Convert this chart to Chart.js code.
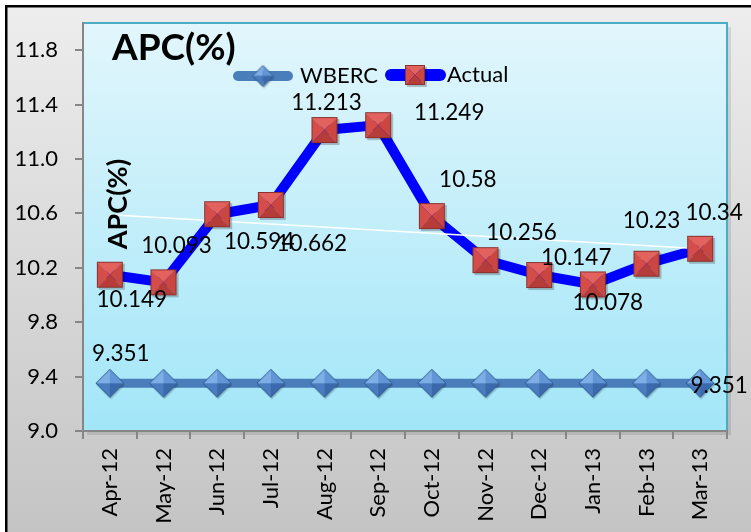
<!DOCTYPE html>
<html><head><meta charset="utf-8">
<script src="https://cdn.jsdelivr.net/npm/chart.js@4.4.1/dist/chart.umd.min.js"></script>
<style>html,body{margin:0;padding:0;background:#fff}#wrap{position:relative;width:751px;height:532px}</style>
</head><body><div id="wrap"><canvas id="c" width="751" height="532"></canvas></div>
<script>
// ---- data ----
const categories = ['Apr-12','May-12','Jun-12','Jul-12','Aug-12','Sep-12','Oct-12','Nov-12','Dec-12','Jan-13','Feb-13','Mar-13'];
const wbercValues = [9.351,9.351,9.351,9.351,9.351,9.351,9.351,9.351,9.351,9.351,9.351,9.351];
const actualValues = [10.149,10.093,10.594,10.662,11.213,11.249,10.58,10.256,10.147,10.078,10.23,10.34];
const trendValues = [10.59,null,null,null,null,null,null,null,null,null,null,10.34];
const yTickValues = [9.0,9.4,9.8,10.2,10.6,11.0,11.4,11.8];
const yMin = 9.0, yMax = 12.0;
const seriesNames = ['WBERC','Actual'];
const chartTitle = 'APC(%)';
const axisTitle = 'APC(%)';

// ---- label placement (pixels, relative to point) ----
const actualLabelOffsets = [[22,25],[13,-37],[42,28],[41,39],[2,-27],[71,-12],[36,-36],[36,-27],[37,-17],[15,18],[5,-43],[14,-36]];
const wbercLabelOffsets = {0:[11,-30], 11:[19,2]};

const FONT = 'Lato, "Open Sans", sans-serif';

function makeSquare(s){
  const pad=3, c=document.createElement('canvas'); c.width=s+pad*2; c.height=s+pad*2;
  const x=c.getContext('2d'); const o=pad, e=pad+s, m=pad+s/2;
  x.fillStyle='rgba(0,0,0,0.22)'; x.fillRect(o+2,o+2,s,s);
  const tri=(pts,col)=>{x.beginPath();x.moveTo(pts[0],pts[1]);x.lineTo(pts[2],pts[3]);x.lineTo(pts[4],pts[5]);x.closePath();x.fillStyle=col;x.fill();};
  tri([o,o,e,o,m,m],'#e4625d');
  tri([o,o,o,e,m,m],'#d54d48');
  tri([e,o,e,e,m,m],'#cc4641');
  tri([o,e,e,e,m,m],'#b53c38');
  x.strokeStyle='#8a312e'; x.lineWidth=1; x.strokeRect(o+0.5,o+0.5,s-1,s-1);
  return c;
}
function makeDiamond(s){
  const pad=3, c=document.createElement('canvas'); c.width=s+pad*2; c.height=s+pad*2;
  const x=c.getContext('2d'); const m=pad+s/2, h=s/2;
  const T=[m,m-h],R=[m+h,m],B=[m,m+h],L=[m-h,m];
  x.fillStyle='rgba(0,0,0,0.2)'; x.beginPath(); x.moveTo(T[0]+1,T[1]+2);x.lineTo(R[0]+1,R[1]+2);x.lineTo(B[0]+1,B[1]+2);x.lineTo(L[0]+1,L[1]+2);x.closePath();x.fill();
  const tri=(a,b,col)=>{x.beginPath();x.moveTo(a[0],a[1]);x.lineTo(b[0],b[1]);x.lineTo(m,m);x.closePath();x.fillStyle=col;x.fill();};
  tri(T,L,'#7eaee6'); tri(T,R,'#6396d6'); tri(L,B,'#4a7dc0'); tri(R,B,'#3a6aab');
  x.beginPath();x.moveTo(T[0],T[1]);x.lineTo(R[0],R[1]);x.lineTo(B[0],B[1]);x.lineTo(L[0],L[1]);x.closePath();
  x.strokeStyle='#2f5b91'; x.lineWidth=1; x.stroke();
  return c;
}
const squareImg = makeSquare(26), diamondImg = makeDiamond(28);
const squareSmall = makeSquare(20), diamondSmall = makeDiamond(21);

const bgPlugin = {
  id:'bg',
  beforeDraw(chart){
    const ctx=chart.ctx, ca=chart.chartArea;
    ctx.save();
    ctx.fillStyle='#fff'; ctx.fillRect(0,0,751,532);
    const g=ctx.createLinearGradient(0,7,0,532); g.addColorStop(0,'#ededed'); g.addColorStop(1,'#c4c4c4');
    ctx.fillStyle=g; ctx.fillRect(7,7,744,525);
    ctx.fillStyle='#000'; ctx.fillRect(5,5,746,2.5); ctx.fillRect(5,5,2.5,527);
    ctx.fillStyle='rgba(0,0,0,0.10)'; ctx.fillRect(ca.left+4,ca.top+4,ca.right-ca.left,ca.bottom-ca.top);
    const pg=ctx.createLinearGradient(0,ca.top,0,ca.bottom); pg.addColorStop(0,'#e2f6fc'); pg.addColorStop(1,'#a2e6f8');
    ctx.fillStyle=pg; ctx.fillRect(ca.left,ca.top,ca.right-ca.left,ca.bottom-ca.top);
    ctx.strokeStyle='#4bacc6'; ctx.lineWidth=2; ctx.strokeRect(ca.left,ca.top,ca.right-ca.left,ca.bottom-ca.top);
    ctx.restore();
  }
};

const textPlugin = {
  id:'texts',
  afterDatasetsDraw(chart){
    const ctx=chart.ctx;
    ctx.save();
    ctx.fillStyle='#000'; ctx.textAlign='center'; ctx.textBaseline='middle';
    ctx.font='22.5px '+FONT;
    const am=chart.getDatasetMeta(3);
    am.data.forEach((p,i)=>{
      const o=actualLabelOffsets[i];
      ctx.fillText(String(actualValues[i]), p.x+o[0], p.y+o[1]);
    });
    const wm=chart.getDatasetMeta(0);
    Object.keys(wbercLabelOffsets).forEach(k=>{
      const p=wm.data[k], o=wbercLabelOffsets[k];
      ctx.fillText(String(wbercValues[k]), p.x+o[0], p.y+o[1]);
    });
    // title
    ctx.textAlign='left'; ctx.textBaseline='alphabetic';
    ctx.font='bold 37px '+FONT;
    ctx.fillText(chartTitle, 112, 60);
    // axis title (inside plot)
    ctx.save(); ctx.translate(127,204); ctx.rotate(-Math.PI/2);
    ctx.textAlign='center'; ctx.font='bold 27px '+FONT;
    ctx.fillText(axisTitle, 0, 0);
    ctx.restore();
    // legend
    ctx.lineCap='round';
    ctx.strokeStyle='#4a7ebb'; ctx.lineWidth=10;
    ctx.beginPath(); ctx.moveTo(238,76); ctx.lineTo(288,76); ctx.stroke();
    ctx.drawImage(diamondSmall, 263-diamondSmall.width/2, 76-diamondSmall.height/2);
    ctx.strokeStyle='#0000ff'; ctx.lineWidth=12;
    ctx.beginPath(); ctx.moveTo(391,75); ctx.lineTo(440,75); ctx.stroke();
    ctx.drawImage(squareSmall, 415-squareSmall.width/2, 75-squareSmall.height/2);
    ctx.font='22px '+FONT; ctx.textBaseline='middle';
    ctx.fillText(chart.data.datasets[0].label, 300, 76);
    ctx.fillText(chart.data.datasets[1].label, 447, 75);
    ctx.restore();
  }
};

new Chart(document.getElementById('c'), {
  type:'line',
  data:{
    labels:categories,
    datasets:[
      {label:seriesNames[0], data:wbercValues, borderColor:'#4a7ebb', borderWidth:9, pointStyle:diamondImg, pointRadius:13, order:4, tension:0},
      {label:seriesNames[1], data:actualValues, borderColor:'#0000ff', borderWidth:10, pointRadius:0, order:3, tension:0, borderJoinStyle:'round', borderCapStyle:'round'},
      {label:'Linear (Actual)', data:trendValues, borderColor:'#ffffff', borderWidth:1.5, pointRadius:0, spanGaps:true, order:2},
      {label:seriesNames[1]+' markers', data:actualValues, showLine:false, pointStyle:squareImg, pointRadius:13, order:1}
    ]
  },
  options:{
    responsive:false, animation:false, devicePixelRatio:1,
    layout:{padding:{left:0, top:23, right:24, bottom:0}},
    plugins:{legend:{display:false}, title:{display:false}, tooltip:{enabled:false}},
    scales:{
      x:{
        type:'category', offset:true,
        grid:{offset:true, drawOnChartArea:false, drawTicks:true, tickLength:8, color:'#868686', lineWidth:2},
        border:{display:true, color:'#868686', width:2},
        ticks:{minRotation:90, maxRotation:90, autoSkip:false, color:'#000', padding:9, font:{family:FONT, size:22}},
        afterFit(s){ s.height = 101; s.paddingLeft = 0; s.paddingRight = 0; }
      },
      y:{
        min:yMin, max:yMax, bounds:'data',
        afterBuildTicks(s){ s.ticks = yTickValues.map(v=>({value:v})); },
        grid:{drawOnChartArea:false, drawTicks:true, tickLength:8, color:'#868686', lineWidth:2},
        border:{display:true, color:'#868686', width:2},
        ticks:{color:'#000', padding:17, font:{family:FONT, size:22}, callback:(v)=>Number(v).toFixed(1)},
        afterFit(s){ s.width = 83; s.paddingTop = 0; s.paddingBottom = 0; }
      }
    }
  },
  plugins:[bgPlugin, textPlugin]
});
</script></body></html>
